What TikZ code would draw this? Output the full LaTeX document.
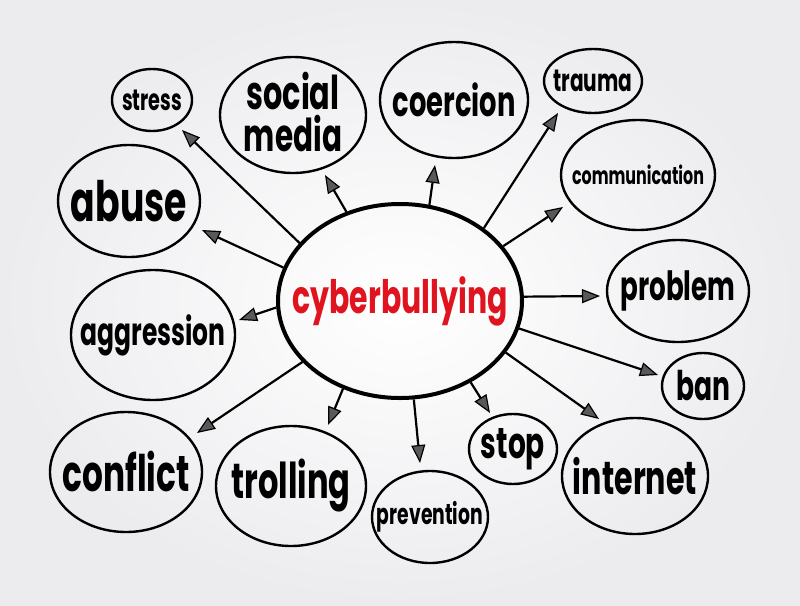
\documentclass[tikz,border=0pt]{standalone}
\usepackage{fontspec}
\setmainfont{Poppins}[FakeStretch=0.65]
\usetikzlibrary{shapes.geometric,arrows.meta}
\definecolor{bgout}{RGB}{236,236,239}
\definecolor{cbred}{RGB}{224,20,30}
\newcommand{\mmlab}[2]{\resizebox{#1pt}{!}{\bfseries #2}}
\tikzset{
  bubble/.style={ellipse, draw=black, line width=2.4pt, inner sep=0pt},
  hub/.style={ellipse, draw=black, line width=4pt, inner sep=0pt},
  arr/.style={line width=2.2pt, -{Triangle[length=18pt,width=14pt,fill=black!65,line width=1.2pt]}},
  lbl/.style={label={[align=center]center:#1}}
}
\begin{document}
\begin{tikzpicture}[x=1pt,y=-1pt]
\shade[inner color=white, outer color=bgout] (0,0) rectangle (800,605);
\useasboundingbox (0,0) rectangle (800,605);

\node[hub, minimum width=244pt, minimum height=194pt, lbl={\textcolor{cbred}{\mmlab{215}{cyberbullying}}}] (c) at (400,301) {};

\node[bubble, minimum width=80pt, minimum height=62pt, lbl={\mmlab{60}{stress}}] (stress) at (152,100) {};
\node[bubble, minimum width=146pt, minimum height=116pt, label={[align=center, yshift=3pt]center:\mmlab{93}{social}\\[4pt]\mmlab{98}{media}}] (social) at (293,115) {};
\node[bubble, minimum width=148pt, minimum height=116pt, lbl={\mmlab{123}{coercion}}] (coercion) at (454,100) {};
\node[bubble, minimum width=98pt, minimum height=64pt, lbl={\mmlab{79}{trauma}}] (trauma) at (593,81) {};
\node[bubble, minimum width=154pt, minimum height=110pt, lbl={\mmlab{132}{communication}}] (comm) at (638,175) {};
\node[bubble, minimum width=142pt, minimum height=112pt, lbl={\mmlab{116}{abuse}}] (abuse) at (129,201) {};
\node[bubble, minimum width=142pt, minimum height=102pt, lbl={\mmlab{115}{problem}}] (problem) at (678,291) {};
\node[bubble, minimum width=164pt, minimum height=130pt, lbl={\mmlab{145}{aggression}}] (aggr) at (153,335) {};
\node[bubble, minimum width=82pt, minimum height=66pt, lbl={\mmlab{54}{ban}}] (ban) at (703,386) {};
\node[bubble, minimum width=152pt, minimum height=120pt, lbl={\mmlab{127}{conflict}}] (conflict) at (126,472) {};
\node[bubble, minimum width=150pt, minimum height=120pt, lbl={\mmlab{119}{trolling}}] (trolling) at (291,486) {};
\node[bubble, minimum width=116pt, minimum height=92pt, lbl={\mmlab{106}{prevention}}] (prev) at (430,517) {};
\node[bubble, minimum width=88pt, minimum height=70pt, lbl={\mmlab{64}{stop}}] (stop) at (513,449) {};
\node[bubble, minimum width=146pt, minimum height=116pt, lbl={\mmlab{124}{internet}}] (internet) at (635,476) {};

\coordinate (tstress) at (182,130);
\coordinate (tsocial) at (325,175);
\coordinate (tabuse) at (202,230);
\coordinate (tcoercion) at (435,165);
\coordinate (ttrauma) at (558,113);
\coordinate (tcomm) at (563,207);
\coordinate (tproblem) at (600,296);
\coordinate (tban) at (658,375);
\coordinate (tinternet) at (599,419);
\coordinate (tstop) at (490,413);
\coordinate (tprev) at (420,463);
\coordinate (ttrolling) at (328,425);
\coordinate (tconflict) at (197,433);
\coordinate (taggr) at (239,320);

\draw[arr] (c.150.4) -- (tstress);
\draw[arr] (c.121.7) -- (tsocial);
\draw[arr] (c.164.4) -- (tabuse);
\draw[arr] (c.73.2) -- (tcoercion);
\draw[arr] (c.41.8) -- (ttrauma);
\draw[arr] (c.28.9) -- (tcomm);
\draw[arr] (c.2.7) -- (tproblem);
\draw[arr] (c.-13.1) -- (tban);
\draw[arr] (c.-26.6) -- (tinternet);
\draw[arr] (c.-49.1) -- (tstop);
\draw[arr] (c.-82.7) -- (tprev);
\draw[arr] (c.237.3) -- (ttrolling);
\draw[arr] (c.212.3) -- (tconflict);
\draw[arr] (c.183.2) -- (taggr);
\end{tikzpicture}
\end{document}
